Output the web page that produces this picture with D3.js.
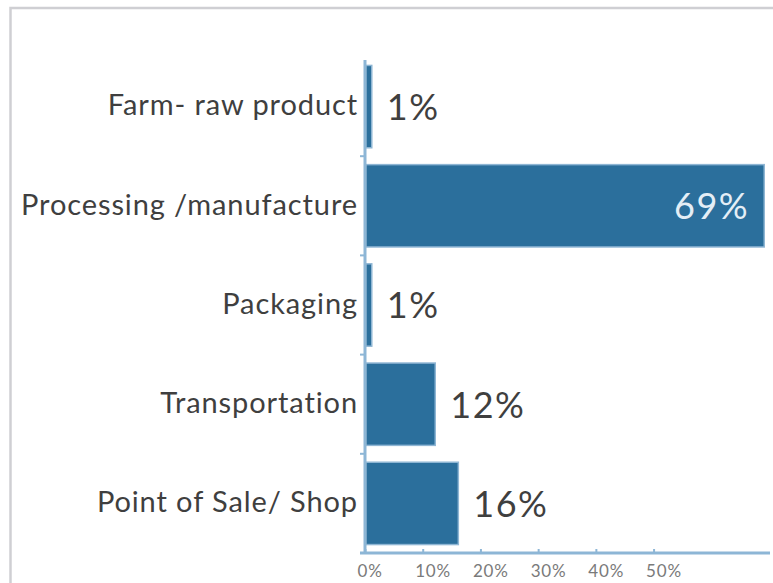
<!DOCTYPE html>
<html>
<head>
<meta charset="utf-8">
<script src="https://cdn.jsdelivr.net/npm/d3@7"></script>
<style>
  body { margin: 0; background: #fff; overflow: hidden; }
  svg { display: block; font-family: Lato, "Open Sans", sans-serif; }
</style>
</head>
<body>
<svg id="chart" width="773" height="583"></svg>
<script>
// -- data -- //
const categories = ['Farm- raw product', 'Processing /manufacture', 'Packaging', 'Transportation', 'Point of Sale/ Shop'];
const shares = [0.01, 0.69, 0.01, 0.12, 0.16];
const tickValues = [0, 0.1, 0.2, 0.3, 0.4, 0.5];
const tickLabels = ['0%', '10%', '20%', '30%', '40%', '50%'];

const rows = categories.map((c, i) => ({ category: c, share: shares[i] }));

const svg = d3.select('#chart');

// frame round the chart (only top and left edges are in view)
svg.append('rect')
    .attr('x', 10.5).attr('y', 8)
    .attr('width', 900).attr('height', 700)
    .style('fill', 'none')
    .style('stroke', '#cfcfd3')
    .style('stroke-width', 2.5);

const xScale = d3.scaleLinear().domain([0, 0.7]).range([365, 769]);
const yScale = d3.scaleBand().domain(categories).range([57, 553]).paddingInner(0.17).paddingOuter(0.085);

// -- axes -- //
const axisColor = '#8db6d6';

const xAxis = svg.append('g')
    .attr('transform', 'translate(0,553)')
    .call(d3.axisBottom(xScale).tickValues(tickValues).tickSize(0).tickFormat((d, i) => tickLabels[i]));
xAxis.select('.domain').remove();
xAxis.append('line')
    .attr('x1', 360).attr('x2', 770)
    .style('stroke', axisColor).style('stroke-width', 3);
xAxis.selectAll('.tick').append('line')
    .attr('y1', -4).attr('y2', 0)
    .style('stroke', axisColor).style('stroke-width', 2);
xAxis.selectAll('.tick text')
    .attr('text-anchor', 'start')
    .attr('x', -8).attr('y', 24).attr('dy', 0)
    .style('font-family', 'Lato, sans-serif')
    .style('font-size', '17px')
    .style('letter-spacing', '0.8px')
    .style('fill', '#7a7a7a');

const yAxis = svg.append('g')
    .attr('transform', 'translate(365,0)')
    .call(d3.axisLeft(yScale).tickSize(0).tickPadding(7));
yAxis.select('.domain').remove();
yAxis.append('line')
    .attr('y1', 60).attr('y2', 554)
    .style('stroke', axisColor).style('stroke-width', 3);
yAxis.selectAll('.tick text')
    .attr('dy', '0.3em')
    .style('font-family', 'Lato, sans-serif')
    .style('font-size', '29px')
    .style('letter-spacing', '0.9px')
    .style('fill', '#3f3f3f');
// small marks between categories
const step = yScale.step();
yAxis.selectAll('.sep')
    .data(categories.slice(1).concat(['end']))
    .enter().append('line')
    .attr('class', 'sep')
    .attr('x1', -5).attr('x2', 0)
    .attr('y1', (d, i) => yScale(categories[0]) - yScale.paddingInner() * step / 2 + step * (i + 1))
    .attr('y2', (d, i) => yScale(categories[0]) - yScale.paddingInner() * step / 2 + step * (i + 1))
    .style('stroke', axisColor).style('stroke-width', 2);

// -- bars -- //
const barLayer = svg.append('g');
barLayer.selectAll('.bar')
    .data(rows)
    .enter().append('rect')
    .attr('class', 'bar')
    .attr('x', xScale(0) + 1)
    .attr('y', d => yScale(d.category))
    .attr('width', d => xScale(d.share) - xScale(0))
    .attr('height', yScale.bandwidth())
    .style('fill', '#2b6f9c')
    .style('stroke', '#8fb6d4')
    .style('stroke-width', 1.5);

// -- value labels -- //
barLayer.selectAll('.value')
    .data(rows)
    .enter().append('text')
    .attr('class', 'value')
    .attr('x', d => d.share > 0.5 ? xScale(d.share) - 14 : xScale(d.share) + 16)
    .attr('y', d => yScale(d.category) + yScale.bandwidth() / 2)
    .attr('dy', '0.37em')
    .attr('text-anchor', d => d.share > 0.5 ? 'end' : 'start')
    .style('font-size', '36px')
    .style('letter-spacing', '1.5px')
    .style('fill', d => d.share > 0.5 ? '#e4eef6' : '#3f3f3f')
    .text(d => Math.round(d.share * 100) + '%');
</script>
</body>
</html>
